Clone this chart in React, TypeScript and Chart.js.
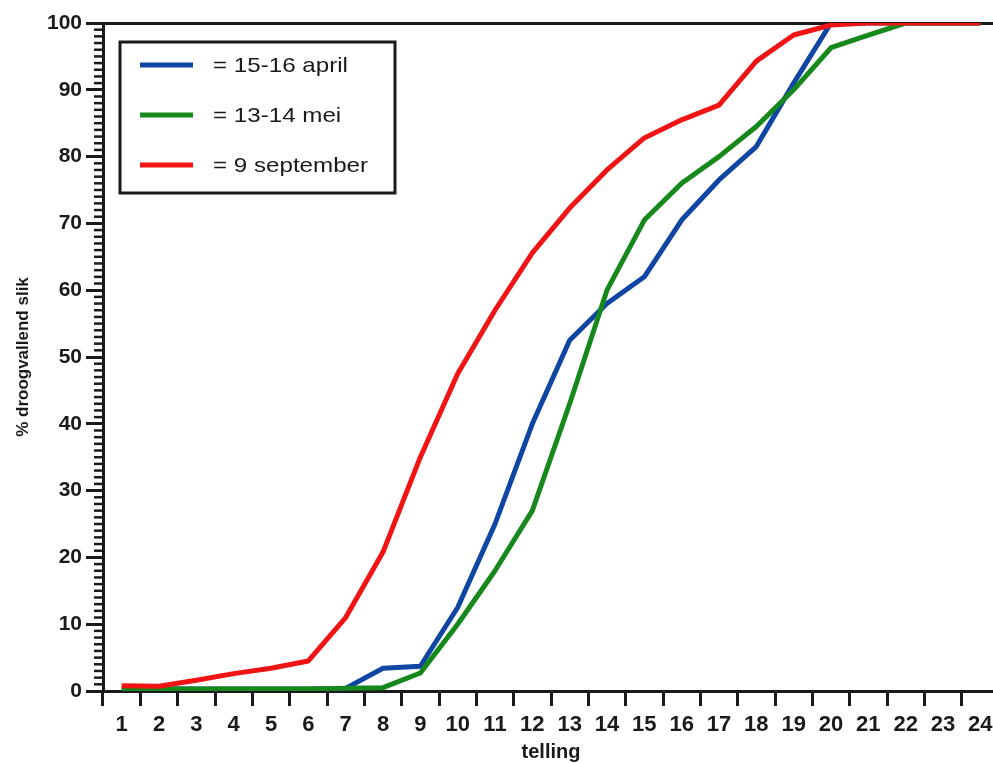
import React, { useEffect, useRef } from "react";
import { Chart, registerables } from "chart.js";

Chart.register(...registerables);

const tellingen = ["1","2","3","4","5","6","7","8","9","10","11","12","13","14","15","16","17","18","19","20","21","22","23","24"];
const april = [0.3, 0.3, 0.3, 0.3, 0.3, 0.3, 0.4, 3.4, 3.7, 12.5, 25, 40, 52.5, 58, 62, 70.5, 76.5, 81.5, 91, 100, 100, 100, 100, 100];
const mei = [0.3, 0.3, 0.3, 0.3, 0.3, 0.3, 0.4, 0.5, 2.7, 10, 18, 27, 43, 60, 70.5, 76, 80, 84.5, 90, 96.3, 98.2, 100, 100, 100];
const september = [0.8, 0.7, 1.6, 2.6, 3.4, 4.5, 11, 20.8, 35, 47.5, 57, 65.6, 72.3, 78, 82.8, 85.5, 87.7, 94.3, 98.2, 99.7, 100, 100, 100, 100];
const seriesNames = ["15-16 april", "13-14 mei", "9 september"];
const seriesColors = ["#0f45a3", "#17891c", "#f01414"];

const FONT = "'Liberation Sans', Arial, Helvetica, sans-serif";
const INK = "#1a1a1a";

const minorTicks = {
  id: "minorTicks",
  afterDraw(chart: any) {
    const { ctx, chartArea } = chart;
    const y = chart.scales.y;
    ctx.save();
    ctx.strokeStyle = INK;
    ctx.lineWidth = 2.5;
    for (let v = 0; v <= 100; v++) {
      if (v % 10 === 0) continue;
      const py = y.getPixelForValue(v);
      ctx.beginPath();
      ctx.moveTo(chartArea.left - 9, py);
      ctx.lineTo(chartArea.left, py);
      ctx.stroke();
    }
    ctx.restore();
  },
};

const boxLegend = {
  id: "boxLegend",
  afterDraw(chart: any) {
    const { ctx, chartArea } = chart;
    const bx = chartArea.left + 17;
    const by = chartArea.top + 19;
    const bw = 275;
    const bh = 151;
    ctx.save();
    ctx.fillStyle = "#ffffff";
    ctx.fillRect(bx, by, bw, bh);
    ctx.strokeStyle = INK;
    ctx.lineWidth = 3;
    ctx.strokeRect(bx, by, bw, bh);
    chart.data.datasets.forEach((ds: any, i: number) => {
      const ly = by + 23 + i * 50;
      ctx.strokeStyle = ds.borderColor;
      ctx.lineWidth = 5;
      ctx.beginPath();
      ctx.moveTo(bx + 20, ly);
      ctx.lineTo(bx + 73, ly);
      ctx.stroke();
      ctx.save();
      ctx.translate(bx + 93, ly);
      ctx.scale(1.15, 1);
      ctx.fillStyle = INK;
      ctx.font = `21px ${FONT}`;
      ctx.textBaseline = "middle";
      ctx.textAlign = "left";
      ctx.fillText("= " + ds.label, 0, 1);
      ctx.restore();
    });
    ctx.restore();
  },
};

export default function App() {
  const ref = useRef<HTMLCanvasElement>(null);
  useEffect(() => {
    if (!ref.current) return;
    const data = [april, mei, september];
    const orders = [2, 1, 0];
    const chart = new Chart(ref.current, {
      type: "line",
      data: {
        labels: tellingen,
        datasets: data.map((d, i) => ({
          label: seriesNames[i],
          data: d,
          borderColor: seriesColors[i],
          backgroundColor: seriesColors[i],
          borderWidth: 5,
          pointRadius: 0,
          tension: 0,
          borderJoinStyle: "round" as const,
          order: orders[i],
        })),
      },
      options: {
        animation: false,
        responsive: true,
        maintainAspectRatio: false,
        layout: { padding: { top: 23, right: 1, left: 0, bottom: 0 } },
        plugins: {
          legend: { display: false },
          tooltip: { enabled: false },
        },
        scales: {
          x: {
            type: "category",
            offset: true,
            afterFit: (s: any) => { s.height = 72; },
            grid: {
              offset: true,
              drawOnChartArea: false,
              drawTicks: true,
              tickLength: 15,
              tickColor: INK,
              tickWidth: 3,
              lineWidth: 3,
            },
            border: { display: true, color: INK, width: 3 },
            ticks: {
              color: INK,
              padding: 6,
              maxRotation: 0,
              autoSkip: false,
              font: { family: FONT, size: 22, weight: "bold" },
            },
            title: {
              display: true,
              text: "telling",
              color: INK,
              padding: 0,
              font: { family: FONT, size: 20, weight: "bold", lineHeight: 1.1 },
            },
          },
          y: {
            min: 0,
            max: 100,
            afterFit: (s: any) => { s.width = 103; },
            grid: {
              drawOnChartArea: true,
              color: (c: any) => (c.tick && c.tick.value === 100 ? INK : "transparent"),
              tickColor: INK,
              tickLength: 17,
              lineWidth: 3,
              tickWidth: 3,
            },
            border: { display: true, color: INK, width: 3 },
            ticks: {
              stepSize: 10,
              color: INK,
              padding: 4,
              font: { family: FONT, size: 21, weight: "bold" },
            },
            title: {
              display: true,
              text: "% droogvallend slik",
              color: INK,
              padding: { top: 13, bottom: 0 },
              font: { family: FONT, size: 17, weight: "bold" },
            },
          },
        },
      },
      plugins: [minorTicks, boxLegend],
    });
    return () => chart.destroy();
  }, []);
  return (
    <div style={{ position: "fixed", left: 0, top: 0, width: 993, height: 763, overflow: "hidden", background: "#ffffff" }}>
      <div style={{ position: "relative", width: 1000, height: 763 }}>
        <canvas ref={ref} />
      </div>
    </div>
  );
}
